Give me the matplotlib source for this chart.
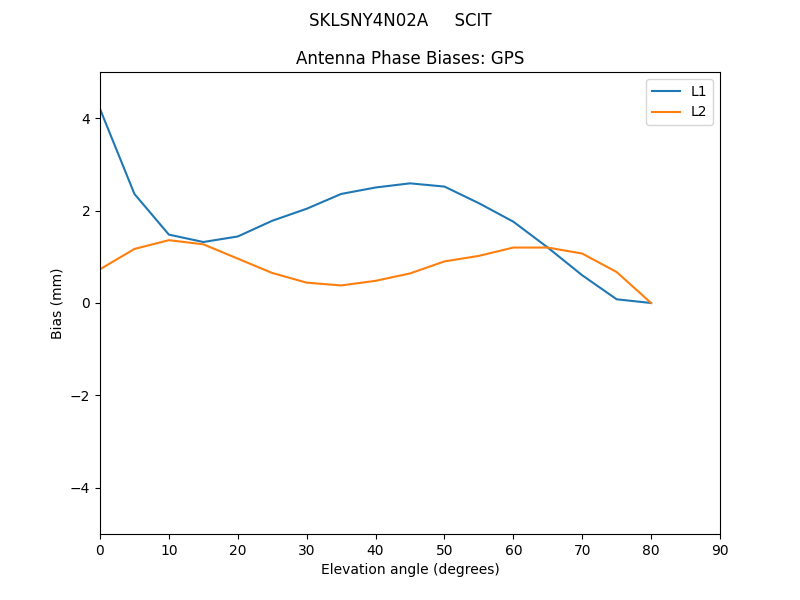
import matplotlib
matplotlib.use("Agg")
import matplotlib.pyplot as plt

# Elevation angles (degrees)
elevation = [0, 5, 10, 15, 20, 25, 30, 35, 40, 45, 50, 55, 60, 65, 70, 75, 80]

# Phase biases (mm)
l1_bias = [4.2, 2.36, 1.48, 1.32, 1.44, 1.78, 2.04, 2.36, 2.50, 2.59, 2.52,
           2.16, 1.76, 1.20, 0.60, 0.08, 0.0]
l2_bias = [0.73, 1.17, 1.36, 1.27, 0.96, 0.65, 0.44, 0.38, 0.48, 0.64, 0.90,
           1.02, 1.20, 1.20, 1.07, 0.67, 0.0]

fig, ax = plt.subplots(figsize=(8, 6), dpi=100)
ax.plot(elevation, l1_bias, label="L1")
ax.plot(elevation, l2_bias, label="L2")

ax.set_xlim(0, 90)
ax.set_ylim(-5, 5)
ax.set_xlabel("Elevation angle (degrees)")
ax.set_ylabel("Bias (mm)")
ax.set_title("Antenna Phase Biases: GPS")
fig.suptitle("SKLSNY4N02A     SCIT")
ax.legend(loc="upper right")

fig.savefig("out.png")
